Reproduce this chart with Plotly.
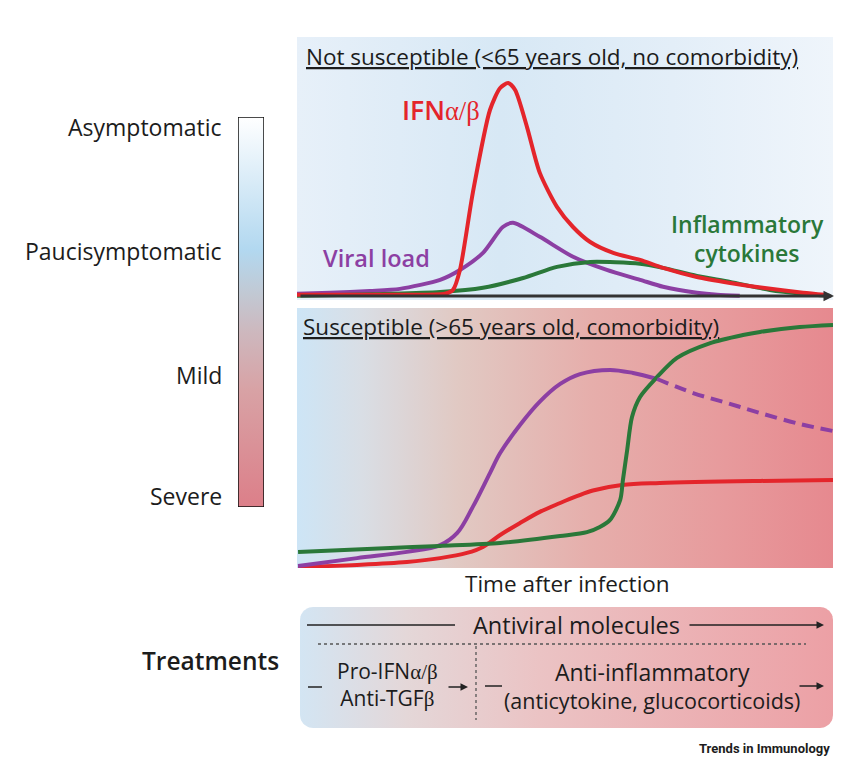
import numpy as np
import plotly.graph_objects as go

W, H = 850, 765
OFF = 8  # page body margin of the browser

# ---------------- data (time after infection 0-100, level 0-100, arbitrary units) -------------
top_ifn_t = [0, 19.2, 27.6, 29.1, 30.4, 32.8, 36.0, 37.9, 39.4, 40.7, 42.9, 45.3, 48.5, 51.5,
             54.7, 59.0, 64.0, 68.3, 74.6, 80.8, 86.9, 94.4, 98.5]
top_ifn_v = [0.4, 0.4, 0.8, 2.3, 10.0, 39.8, 71.8, 80.3, 82.2, 79.5, 65.3, 47.5, 34.4, 26.6,
             20.8, 16.6, 13.9, 10.8, 7.3, 5.0, 3.1, 1.2, 0.4]

top_viral_t = [0, 6.2, 13.6, 19.2, 26.7, 30.4, 34.7, 38.4, 40.3, 45.3, 51.5, 57.8, 64.0, 68.3,
               74.6, 78.4, 82.6]
top_viral_v = [0.8, 1.2, 1.9, 2.7, 6.2, 10.0, 16.6, 26.6, 28.2, 22.8, 15.1, 10.0, 6.2, 3.5,
               1.2, 0.4, 0]

top_cyto_t = [0, 26.7, 34.7, 42.2, 48.5, 54.7, 64.0, 68.3, 74.6, 80.8, 88.2, 94.4, 99.4]
top_cyto_v = [0, 1.5, 3.1, 6.9, 11.2, 13.1, 12.4, 10.8, 7.7, 5.4, 2.3, 0.8, 0]

bot_viral_t = [0.2, 11.2, 20.5, 26.7, 29.9, 32.8, 36.0, 37.9, 41.6, 45.3, 49.1, 52.8, 58.4,
               62.7, 67.2]
bot_viral_v = [0.8, 3.8, 6.2, 8.8, 13.5, 23.5, 36.5, 44.2, 55.0, 64.0, 70.8, 74.6, 76.2,
               75.0, 72.7]
bot_viral_dash_t = [67.2, 73.9, 80.2, 86.4, 93.8, 100]
bot_viral_dash_v = [72.7, 67.3, 63.5, 59.6, 55.4, 52.7]

bot_cyto_t = [0.2, 17.4, 26.7, 37.9, 49.1, 54.1, 56.5, 58.4, 60.3, 60.8, 61.6, 62.5, 64.0,
              67.2, 70.9, 77.1, 83.2, 86.4, 93.8, 100]
bot_cyto_v = [6.2, 7.7, 8.5, 9.6, 12.3, 13.8, 15.8, 18.5, 26.2, 33.8, 45.4, 58.1, 65.8,
              73.5, 80.8, 86.5, 89.6, 90.8, 92.7, 93.5]

bot_ifn_t = [0.2, 11.2, 20.5, 26.7, 31.7, 34.7, 37.9, 41.6, 45.3, 49.1, 52.2, 55.2, 60.6,
             67.7, 86.4, 100]
bot_ifn_v = [0.4, 1.2, 2.3, 3.8, 5.8, 8.1, 12.7, 17.3, 21.6, 25.0, 27.6, 29.8, 31.9,
             32.7, 33.5, 33.8]

severity_labels = ["Asymptomatic", "Paucisymptomatic", "Mild", "Severe"]

# ---------------- styling ----------------
RED = "#e4252b"
PURPLE = "#8c3fa3"
GREEN = "#2a7839"
TXT = "#1c1c1c"
FONT = "Open Sans"
SERIF = "Liberation Serif"


def X(px):
    return (px - OFF) / W


def Y(py):
    return 1 - (py - OFF) / H


fig = go.Figure()

# ---- top panel background + curves (xaxis / yaxis) ----
fig.add_trace(go.Scatter(
    x=[0, 100, 100, 0, 0], y=[-1.6, -1.6, 100, 100, -1.6], mode="lines",
    line=dict(width=0), fill="toself",
    fillgradient=dict(type="horizontal",
                      colorscale=[[0, "#e7f0f9"], [0.38, "#d7e8f5"], [0.7, "#e3eef8"],
                                  [1, "#eff5fb"]]),
    hoverinfo="skip", showlegend=False, xaxis="x", yaxis="y"))
for t, v, c in [(top_viral_t, top_viral_v, PURPLE), (top_cyto_t, top_cyto_v, GREEN),
                (top_ifn_t, top_ifn_v, RED)]:
    fig.add_trace(go.Scatter(x=t, y=v, mode="lines",
                             line=dict(color=c, width=4, shape="spline", smoothing=0.7),
                             hoverinfo="skip", showlegend=False, xaxis="x", yaxis="y"))

# ---- bottom panel background + curves (xaxis2 / yaxis2) ----
fig.add_trace(go.Scatter(
    x=[0, 100, 100, 0, 0], y=[0, 0, 100, 100, 0], mode="lines",
    line=dict(width=0), fill="toself",
    fillgradient=dict(type="horizontal",
                      colorscale=[[0, "#cde5f6"], [0.12, "#d9dee5"], [0.3, "#e1c9c3"],
                                  [0.55, "#e6aeab"], [0.8, "#e79a9c"], [1, "#e6898f"]]),
    hoverinfo="skip", showlegend=False, xaxis="x2", yaxis="y2"))
for t, v, c, sm in [(bot_ifn_t, bot_ifn_v, RED, 1.0), (bot_viral_t, bot_viral_v, PURPLE, 1.0),
                    (bot_cyto_t, bot_cyto_v, GREEN, 0.8)]:
    fig.add_trace(go.Scatter(x=t, y=v, mode="lines",
                             line=dict(color=c, width=4, shape="spline", smoothing=sm),
                             hoverinfo="skip", showlegend=False, xaxis="x2", yaxis="y2"))
fig.add_trace(go.Scatter(x=bot_viral_dash_t, y=bot_viral_dash_v, mode="lines",
                         line=dict(color=PURPLE, width=4, dash="12px,7px", shape="spline"),
                         hoverinfo="skip", showlegend=False, xaxis="x2", yaxis="y2"))

# ---- severity colour bar (xaxis3 / yaxis3) ----
fig.add_trace(go.Scatter(
    x=[0, 1, 1, 0, 0], y=[0, 0, 1, 1, 0], mode="lines",
    line=dict(color="#111111", width=1.5), fill="toself",
    fillgradient=dict(type="vertical",
                      colorscale=[[0, "#dc7f89"], [0.3, "#d8a2a5"], [0.45, "#cdb8be"],
                                  [0.55, "#c1c9d4"], [0.66, "#b2d8f0"], [0.85, "#dcedf8"],
                                  [1, "#ffffff"]]),
    hoverinfo="skip", showlegend=False, xaxis="x3", yaxis="y3"))

# ---- treatments rounded box (xaxis4 / yaxis4, pixel-like units) ----
bx0, bx1, by0, by1, r = 0.0, 533.0, 0.0, 121.0, 13.0
ang = np.linspace(0, np.pi / 2, 12)
path_x, path_y = [], []
for cx, cy, a0 in [(bx1 - r, by1 - r, 0), (bx0 + r, by1 - r, np.pi / 2),
                   (bx0 + r, by0 + r, np.pi), (bx1 - r, by0 + r, 1.5 * np.pi)]:
    path_x += list(cx + r * np.cos(a0 + ang))
    path_y += list(cy + r * np.sin(a0 + ang))
path_x.append(path_x[0])
path_y.append(path_y[0])
fig.add_trace(go.Scatter(
    x=path_x, y=path_y, mode="lines", line=dict(width=0), fill="toself",
    fillgradient=dict(type="horizontal",
                      colorscale=[[0, "#d3e5f3"], [0.2, "#e4d7d8"], [0.45, "#ebc3c4"],
                                  [1, "#eca0a5"]]),
    hoverinfo="skip", showlegend=False, xaxis="x4", yaxis="y4"))

hidden = dict(visible=False, fixedrange=True)
fig.update_layout(
    width=W, height=H, margin=dict(l=0, r=0, t=0, b=0),
    paper_bgcolor="white", plot_bgcolor="rgba(0,0,0,0)",
    font=dict(family=FONT, color=TXT),
    xaxis=dict(domain=[X(297), X(833)], range=[0, 100], **hidden),
    yaxis=dict(domain=[Y(300), Y(37)], range=[-1.6, 100], **hidden),
    xaxis2=dict(domain=[X(297), X(833)], range=[0, 100], anchor="y2", **hidden),
    yaxis2=dict(domain=[Y(568), Y(308)], range=[0, 100], anchor="x2", **hidden),
    xaxis3=dict(domain=[X(238), X(264)], range=[0, 1], anchor="y3", **hidden),
    yaxis3=dict(domain=[Y(507), Y(117)], range=[0, 1], anchor="x3", **hidden),
    xaxis4=dict(domain=[X(300), X(833)], range=[0, 533], anchor="y4", **hidden),
    yaxis4=dict(domain=[Y(728), Y(607)], range=[0, 121], anchor="x4", **hidden),
)

ann = []


def text(px, py, s, size, color=TXT, xanchor="center", weight="normal", family=FONT):
    ann.append(dict(x=X(px), y=Y(py), xref="paper", yref="paper", text=s, showarrow=False,
                    xanchor=xanchor, yanchor="middle",
                    font=dict(size=size, color=color, family=family, weight=weight)))


def arrow(x0, x1, py, width=1.5, color="#222222", head=2, size=1.0):
    ann.append(dict(x=X(x1), y=Y(py), xref="paper", yref="paper", text="",
                    showarrow=True, ax=-(x1 - x0), ay=0, axref="pixel", ayref="pixel",
                    arrowhead=head, arrowsize=size, arrowwidth=width, arrowcolor=color,
                    standoff=0))


greek = lambda s: '<span style="font-family:%s;font-weight:normal">%s</span>' % (SERIF, s)
ul = lambda s: '<span style="text-decoration:underline">%s</span>' % s

# titles
text(304, 56, ul("Not susceptible (&lt;65 years old, no comorbidity)"), 22.5, xanchor="left")
text(301, 326, ul("Susceptible (&gt;65 years old, comorbidity)"), 22.5, xanchor="left")

# curve labels
text(441, 110, "IFN" + greek("α/β"), 26.5, color=RED, weight=600)
text(376, 258, "Viral load", 23.5, color=PURPLE, weight=600)
text(747, 224, "Inflammatory", 23, color=GREEN, weight=600)
text(747, 253, "cytokines", 23, color=GREEN, weight=600)

# time axis arrow (top panel) and axis title
arrow(299, 834, 296, width=3, color="#333333", head=2, size=0.7)
text(567, 583, "Time after infection", 22.5)

# severity labels
for lab, py in zip(severity_labels, [127, 251, 375, 496]):
    text(224, py, lab, 23, xanchor="right")

# treatments
text(210, 660, "Treatments", 24.5, weight=600)
text(576, 625, "Antiviral molecules", 23.5)
fig.add_shape(type="line", xref="paper", yref="paper", x0=X(307), x1=X(455), y0=Y(625),
              y1=Y(625), line=dict(color="#222222", width=1.5))
arrow(688, 824, 625)
fig.add_shape(type="line", xref="paper", yref="paper", x0=X(318), x1=X(806), y0=Y(644),
              y1=Y(644), line=dict(color="#555555", width=1.3, dash="dot"))
fig.add_shape(type="line", xref="paper", yref="paper", x0=X(476), x1=X(476), y0=Y(646),
              y1=Y(720), line=dict(color="#555555", width=1.3, dash="dot"))
text(387, 684, "Pro-IFN" + greek("α/β") + "<br>Anti-TGF" + greek("β"), 21)
fig.add_shape(type="line", xref="paper", yref="paper", x0=X(308), x1=X(322), y0=Y(687),
              y1=Y(687), line=dict(color="#222222", width=1.5))
arrow(447, 468, 687)
fig.add_shape(type="line", xref="paper", yref="paper", x0=X(485), x1=X(502), y0=Y(686),
              y1=Y(686), line=dict(color="#222222", width=1.5))
arrow(798, 824, 686)
text(652, 685, '<span style="font-size:23px">Anti-inflammatory</span><br>'
     '(anticytokine, glucocorticoids)', 21.5)

text(832, 748, "Trends in Immunology", 13, xanchor="right", weight="bold",
     family="Liberation Sans Narrow, Roboto, sans-serif")

fig.update_layout(annotations=ann)
fig.write_html("out.html")
